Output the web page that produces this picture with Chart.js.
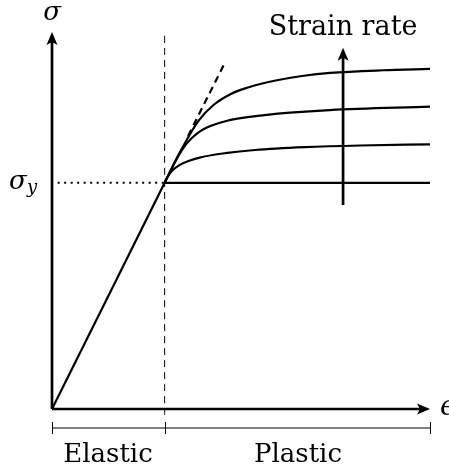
<!DOCTYPE html>
<html>
<head>
<meta charset="utf-8">
<script src="https://cdn.jsdelivr.net/npm/chart.js@4"></script>
<style>
  html, body { margin: 0; padding: 0; background: #fff; }
  canvas { display: block; }
</style>
</head>
<body>
<canvas id="grafico" width="449" height="468"></canvas>
<script>
// valores (unidades arbitrarias)
const yieldX = 2.98;
const yieldY = 6;
const axisMax = [10, 10];

const elasticX = [0, 2.98];
const elasticY = [0, 6];

const flatX = [2.98, 10];
const flatY = [6, 6];

const lowX = [2.98, 3.06, 3.19, 3.37, 3.61, 3.93, 4.58, 5.37, 6.69, 8.15, 10];
const lowY = [6, 6.16, 6.33, 6.47, 6.58, 6.675, 6.785, 6.87, 6.945, 6.99, 7.02];

const midX = [2.98, 3.29, 3.56, 3.85, 4.19, 4.61, 5.24, 6.3, 7.35, 10];
const midY = [6, 6.62, 7.04, 7.32, 7.505, 7.64, 7.75, 7.86, 7.93, 8.02];

const highX = [2.98, 3.41, 3.88, 4.28, 4.72, 5.16, 5.51, 5.95, 6.66, 7.36, 8.76, 10];
const highY = [6, 6.86, 7.65, 8.07, 8.35, 8.52, 8.62, 8.72, 8.84, 8.915, 8.985, 9.02];

const tangentX = [3.6, 4.59];
const tangentY = [7.24, 9.22];

const rateArrowX = 7.70;
const rateArrowY = [5.41, 9.58];

const labels = {
  sigma: 'σ',
  sub: 'y',
  eps: 'ϵ',
  rate: 'Strain rate',
  elastic: 'Elastic',
  plastic: 'Plastic'
};

const pts = (xs, ys) => xs.map((x, i) => ({ x: x, y: ys[i] }));

function linea(xs, ys, extra) {
  return Object.assign({
    data: pts(xs, ys),
    showLine: true,
    borderColor: '#000',
    borderWidth: 2.2,
    pointRadius: 0,
    fill: false,
    cubicInterpolationMode: 'monotone',
    clip: false
  }, extra || {});
}

const serif = '"DejaVu Serif", "Liberation Serif", serif';

// tamaño de letra para que el texto ocupe un ancho dado
function ajustar(ctx, texto, ancho, estilo) {
  ctx.font = estilo + '100px ' + serif;
  return Math.round(100 * ancho / ctx.measureText(texto).width);
}

// flechas, corchete y textos
const dibujoExtra = {
  id: 'dibujoExtra',
  afterDatasetsDraw(chart) {
    const ctx = chart.ctx;
    const sx = chart.scales.x, sy = chart.scales.y;
    const X = v => sx.getPixelForValue(v);
    const Y = v => sy.getPixelForValue(v);

    function cabeza(px, py, dir) {
      ctx.save();
      ctx.translate(px, py);
      ctx.rotate(dir);
      ctx.beginPath();
      ctx.moveTo(0, 0);
      ctx.lineTo(-13, -5.5);
      ctx.lineTo(-10, 0);
      ctx.lineTo(-13, 5.5);
      ctx.closePath();
      ctx.fillStyle = '#000';
      ctx.fill();
      ctx.restore();
    }

    cabeza(X(axisMax[0]), Y(0), 0);
    cabeza(X(0), Y(axisMax[1]), -Math.PI / 2);
    cabeza(X(rateArrowX), Y(rateArrowY[1]), -Math.PI / 2);

    // corchete Elastic / Plastic
    const yb = Y(0) + 19;
    ctx.save();
    ctx.strokeStyle = '#000';
    ctx.lineWidth = 1;
    ctx.beginPath();
    ctx.moveTo(X(0), yb);
    ctx.lineTo(X(axisMax[0]), yb);
    [0, yieldX, axisMax[0]].forEach(v => {
      ctx.moveTo(Math.round(X(v)) + 0.5, yb - 6);
      ctx.lineTo(Math.round(X(v)) + 0.5, yb + 6);
    });
    ctx.stroke();

    ctx.fillStyle = '#000';
    ctx.textBaseline = 'alphabetic';
    ctx.textAlign = 'center';
    const tam = ajustar(ctx, labels.elastic, 90, '');
    ctx.font = tam + 'px ' + serif;
    ctx.fillText(labels.elastic, 108, yb + 34);
    ctx.fillText(labels.plastic, 298, yb + 34);
    ctx.font = ajustar(ctx, labels.rate, 147, '') + 'px ' + serif;
    ctx.fillText(labels.rate, X(rateArrowX), 35);

    ctx.font = 'italic 26px ' + serif;
    ctx.fillText(labels.sigma, X(0), 20);
    ctx.textAlign = 'left';
    ctx.fillText(labels.sigma, 9, Y(yieldY) + 6);
    ctx.font = 'italic 18px ' + serif;
    ctx.fillText(labels.sub, 27, Y(yieldY) + 10);
    ctx.font = 'italic 28px ' + serif;
    ctx.fillText(labels.eps, X(axisMax[0]) + 10, Y(0) + 6);
    ctx.restore();
  }
};

new Chart(document.getElementById('grafico'), {
  type: 'scatter',
  data: {
    datasets: [
      linea([yieldX, yieldX], [-0.16, 9.97], { borderWidth: 1, borderDash: [7, 5] }),
      linea([0.15, yieldX], [yieldY, yieldY], { borderWidth: 2, borderDash: [2, 4.5] }),
      linea(tangentX, tangentY, { borderWidth: 2.2, borderDash: [7, 5] }),
      linea([0, axisMax[0] - 0.2], [0, 0], { borderWidth: 2.7 }),
      linea([0, 0], [0, axisMax[1] - 0.2], { borderWidth: 2.7 }),
      linea([rateArrowX, rateArrowX], [rateArrowY[0], rateArrowY[1] - 0.2], { borderWidth: 2.7 }),
      linea(elasticX, elasticY),
      linea(flatX, flatY),
      linea(lowX, lowY),
      linea(midX, midY),
      linea(highX, highY)
    ]
  },
  options: {
    responsive: false,
    animation: false,
    layout: { padding: { left: 52, right: 19, top: 32, bottom: 59 } },
    plugins: { legend: { display: false }, tooltip: { enabled: false } },
    scales: {
      x: { type: 'linear', min: 0, max: axisMax[0], display: false },
      y: { type: 'linear', min: 0, max: axisMax[1], display: false }
    }
  },
  plugins: [dibujoExtra]
});
</script>
</body>
</html>
